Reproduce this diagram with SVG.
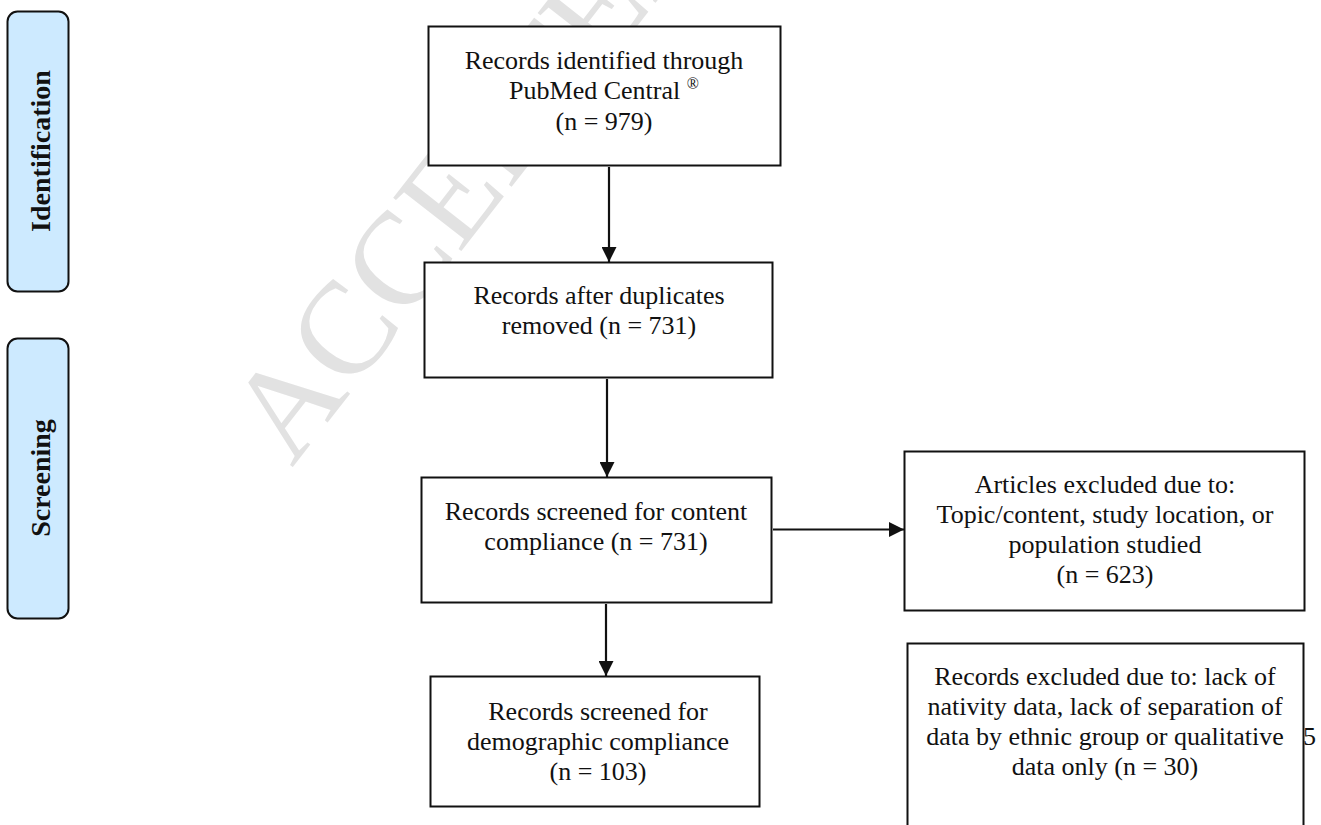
<svg xmlns="http://www.w3.org/2000/svg" width="1321" height="825" viewBox="0 0 1321 825">
<defs>
<style>
.box{fill:#ffffff;stroke:#111111;stroke-width:2}
.side{fill:#cdeaff;stroke:#111111;stroke-width:2}
.t{font-family:"Liberation Serif","Times New Roman",serif;font-size:26px;fill:#111111;text-anchor:middle}
.lab{font-family:"Liberation Serif","Times New Roman",serif;font-size:28px;font-weight:bold;fill:#111111;text-anchor:middle}
.wm{font-family:"Liberation Serif","Times New Roman",serif;font-size:132px;fill:#e2e2e2}
.conn{stroke:#111111;stroke-width:2.2;fill:none}
</style>
<marker id="ah" viewBox="0 0 10 10" refX="10" refY="5" markerUnits="userSpaceOnUse" markerWidth="15" markerHeight="15" orient="auto">
<path d="M0,0 L10,5 L0,10 z" fill="#111111"/>
</marker>
</defs>
<rect width="1321" height="825" fill="#ffffff"/>
<text class="wm" transform="translate(292,468) rotate(-52)">ACCEPTED MANUSCRIPT</text>

<g id="identification">
<rect class="side" x="7.5" y="11.5" width="61" height="280" rx="10"/>
<text class="lab" transform="translate(50,151) rotate(-90)">Identification</text>
</g>
<g id="screening">
<rect class="side" x="7.5" y="338.5" width="61" height="280" rx="10"/>
<text class="lab" transform="translate(50,478) rotate(-90)">Screening</text>
</g>

<g id="connectors">
<line class="conn" x1="609" y1="167" x2="609" y2="262" marker-end="url(#ah)"/>
<line class="conn" x1="607" y1="379" x2="607" y2="477" marker-end="url(#ah)"/>
<line class="conn" x1="606" y1="604" x2="606" y2="676" marker-end="url(#ah)"/>
<line class="conn" x1="773" y1="529.5" x2="904" y2="529.5" marker-end="url(#ah)"/>
</g>

<g id="identified">
<rect class="box" x="428.5" y="26.5" width="352" height="139"/>
<text class="t" x="604" y="69">Records identified through</text>
<text class="t" x="604" y="99">PubMed Central <tspan font-size="16" dy="-10">®</tspan></text>
<text class="t" x="604" y="130">(n = 979)</text>
</g>

<g id="duplicates">
<rect class="box" x="424.5" y="262.5" width="348" height="115"/>
<text class="t" x="599" y="304">Records after duplicates</text>
<text class="t" x="599" y="334">removed (n = 731)</text>
</g>

<g id="content">
<rect class="box" x="421.5" y="477.5" width="350" height="125"/>
<text class="t" x="596" y="520">Records screened for content</text>
<text class="t" x="596" y="550">compliance (n = 731)</text>
</g>

<g id="excluded-articles">
<rect class="box" x="904.5" y="451.5" width="400" height="159"/>
<text class="t" x="1105" y="493">Articles excluded due to:</text>
<text class="t" x="1105" y="523">Topic/content, study location, or</text>
<text class="t" x="1105" y="553">population studied</text>
<text class="t" x="1105" y="583">(n = 623)</text>
</g>

<g id="excluded-records">
<rect class="box" x="907.5" y="643.5" width="396" height="200"/>
<text class="t" x="1105" y="685">Records excluded due to: lack of</text>
<text class="t" x="1105" y="715">nativity data, lack of separation of</text>
<text class="t" x="1105" y="745">data by ethnic group or qualitative</text>
<text class="t" x="1105" y="775">data only (n = 30)</text>
</g>

<g id="demographic">
<rect class="box" x="430.5" y="676.5" width="329" height="130"/>
<text class="t" x="598" y="720">Records screened for</text>
<text class="t" x="598" y="750">demographic compliance</text>
<text class="t" x="598" y="780">(n = 103)</text>
</g>

<text x="1303" y="745" style="font-family:'Liberation Serif','Times New Roman',serif;font-size:26px;fill:#111111">5</text>
</svg>
